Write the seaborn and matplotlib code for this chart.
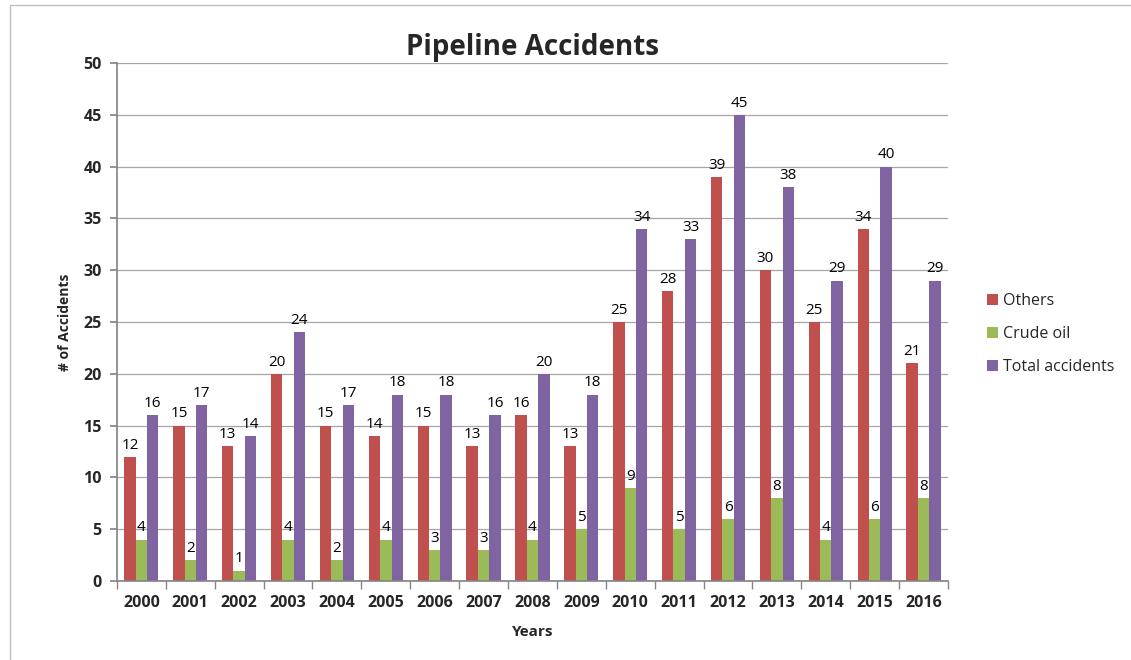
import matplotlib
matplotlib.use("Agg")
import matplotlib.pyplot as plt
import seaborn as sns
import pandas as pd
import numpy as np
from matplotlib.patches import Rectangle

years = [str(y) for y in range(2000, 2017)]
others = [12, 15, 13, 20, 15, 14, 15, 13, 16, 13, 25, 28, 39, 30, 25, 34, 21]
crude_oil = [4, 2, 1, 4, 2, 4, 3, 3, 4, 5, 9, 5, 6, 8, 4, 6, 8]
total = [16, 17, 14, 24, 17, 18, 18, 16, 20, 18, 34, 33, 45, 38, 29, 40, 29]
series_names = ["Others", "Crude oil", "Total accidents"]
colors = ["#C0504D", "#9BBB59", "#8064A2"]

df = pd.DataFrame({"Year": years * 3,
                   "Series": [series_names[0]] * 17 + [series_names[1]] * 17 + [series_names[2]] * 17,
                   "Value": others + crude_oil + total})

sns.set_theme(style="white")
plt.rcParams['font.family'] = ['Open Sans', 'DejaVu Sans']

fig = plt.figure(figsize=(11.31, 6.6), dpi=100)
ax = fig.add_axes([0.1034, 0.1197, 0.7348, 0.7848])

sns.barplot(data=df, x="Year", y="Value", hue="Series", palette=colors,
            width=0.7, ax=ax, saturation=1, legend=True, linewidth=0)

for cont in ax.containers:
    ax.bar_label(cont, padding=3, fontsize=11, color="black")

ax.set_ylim(0, 50)
ax.set_yticks(range(0, 51, 5))
ax.yaxis.grid(True, color="#A6A6A6", linewidth=0.9)
ax.set_axisbelow(True)
for s in ["top", "right"]:
    ax.spines[s].set_visible(False)
ax.spines["left"].set_color("#868686")
ax.spines["bottom"].set_color("#868686")

ax.set_xlim(-0.5, 16.5)
ax.set_xticks(np.arange(-0.5, 17, 1), minor=True)
ax.tick_params(axis="x", which="minor", length=6, color="#868686", bottom=True)
ax.tick_params(axis="x", which="major", length=0, pad=10)
ax.tick_params(axis="y", length=5, color="#868686", left=True, pad=6)
for lbl in ax.get_xticklabels() + ax.get_yticklabels():
    lbl.set_fontweight("bold")
    lbl.set_fontsize(11.5)

ax.set_xlabel("Years", fontsize=11, fontweight="bold", labelpad=10)
ax.set_ylabel("# of Accidents", fontsize=10, fontweight="bold", labelpad=8)
ax.set_title("Pipeline Accidents", fontsize=20, fontweight="bold", pad=6)

leg = ax.legend(loc="center left", bbox_to_anchor=(1.03, 0.477), frameon=False,
                fontsize=11.5, handlelength=0.7, handleheight=0.7, labelspacing=1.05,
                handletextpad=0.3)

fig.patches.append(Rectangle((0.009, -0.01), 1.2, 1.002, transform=fig.transFigure,
                             fill=False, edgecolor="#BFBFBF", linewidth=1))

fig.savefig("out.png", dpi=100)
